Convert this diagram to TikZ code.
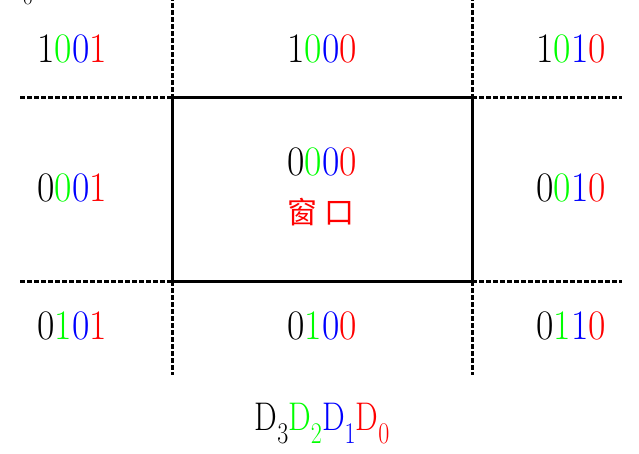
\documentclass[tikz,border=0pt]{standalone}
\usepackage{fontspec}
\usepackage{xcolor}
\usepackage{graphicx}
\newfontfamily\cjk{Noto Sans CJK SC}
\newcommand{\bits}[4]{\scalebox{0.9}[1]{#1\textcolor{green}{#2}\textcolor{blue}{#3}\textcolor{red}{#4}}}
\newcommand{\dsub}[1]{D\raisebox{-13pt}{\fontsize{30}{32}\selectfont #1}}

\begin{document}
\begin{tikzpicture}[x=1pt,y=-1pt,
    code/.style={font=\fontsize{42}{46}\selectfont},
    edge/.style={line width=3pt, dash pattern=on 4.5pt off 2.5pt},
    win/.style={line width=3pt}]
  \useasboundingbox (0,0) rectangle (639,453);

  % Corners of the window
  \coordinate (wtl) at (172,97);
  \coordinate (wtr) at (472,97);
  \coordinate (wbl) at (172,281);
  \coordinate (wbr) at (472,281);
  \coordinate (ttl) at (172,-4);
  \coordinate (ttr) at (472,-4);
  \coordinate (bbl) at (172,375);
  \coordinate (bbr) at (472,375);
  \coordinate (lt) at (20,97);
  \coordinate (lb) at (20,281);
  \coordinate (rt) at (622,97);
  \coordinate (rb) at (622,281);

  % Draw the window
  \draw[win] (wtl) rectangle (wbr);

  % Draw the dashed edge lines
  \draw[edge] (ttl) -- (wtl) (wbl) -- (bbl);
  \draw[edge] (ttr) -- (wtr) (wbr) -- (bbr);
  \draw[edge] (lt) -- (wtl) (wtr) -- (rt);
  \draw[edge] (lb) -- (wbl) (wbr) -- (rb);

  % Draw region codes
  \node[code] (c1001) at (72,49) {\bits1001};
  \node[code] (c1000) at (322,49) {\bits1000};
  \node[code] (c1010) at (571,49) {\bits1010};
  \node[code] (c0001) at (72,188) {\bits0001};
  \node[code] (c0000) at (322,162) {\bits0000};
  \node[code] (c0010) at (571,188) {\bits0010};
  \node[code] (c0101) at (72,326) {\bits0101};
  \node[code] (c0100) at (322,326) {\bits0100};
  \node[code] (c0110) at (571,326) {\bits0110};
  \node[font=\fontsize{30}{34}\selectfont\cjk, text=red] (window) at (321,212) {窗 口};

  % Draw bit names
  \node[font=\fontsize{40}{44}\selectfont, anchor=base] (bitnames) at (322,430)
    {\scalebox{0.8}[1]{\dsub3\color{green}\dsub2\color{blue}\dsub1\color{red}\dsub0}};
  \node[font=\fontsize{22}{24}\selectfont, anchor=base] (origin) at (28,4) {0};
\end{tikzpicture}
\end{document}
